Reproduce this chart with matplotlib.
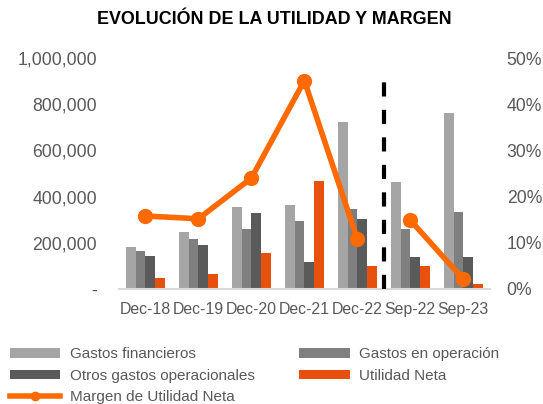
import matplotlib
matplotlib.use("Agg")
import matplotlib.pyplot as plt
import matplotlib.ticker as mticker
from matplotlib.lines import Line2D
import numpy as np

plt.rcParams['font.family'] = ['Liberation Sans', 'DejaVu Sans']

categories = ["Dec-18", "Dec-19", "Dec-20", "Dec-21", "Dec-22", "Sep-22", "Sep-23"]
gastos_financieros = [180000, 247000, 356000, 365000, 721000, 463000, 760000]
gastos_operacion = [166000, 215000, 261000, 296000, 348000, 258000, 333000]
otros_gastos = [143000, 189000, 330000, 115000, 304000, 140000, 140000]
utilidad_neta = [47000, 65000, 157000, 466000, 100000, 100000, 20000]
# margin in fraction; annual part and quarterly part are drawn separately
margen_anual = [0.158, 0.152, 0.240, 0.451, 0.108]
margen_sep = [0.149, 0.021]

gray_txt = "#595959"
bar_colors = ["#A5A5A5", "#7F7F7F", "#5A5A5A", "#E8500E"]
line_color = "#FF6A00"

fig = plt.figure(figsize=(5.43, 4.04), dpi=100)
ax = fig.add_axes([0.219, 0.2847, 0.683, 0.5717])
ax2 = ax.twinx()

x = np.arange(len(categories))
w = 0.182
series = [gastos_financieros, gastos_operacion, otros_gastos, utilidad_neta]
names = ["Gastos financieros", "Gastos en operación", "Otros gastos operacionales", "Utilidad Neta"]
bars = []
for i, (vals, c, n) in enumerate(zip(series, bar_colors, names)):
    b = ax.bar(x + (i - 1.5) * w, vals, w, color=c, label=n, zorder=2)
    bars.append(b)

ax.set_xlim(-0.5, len(categories) - 0.5)
ax.set_ylim(0, 1000000)
ax.set_yticks(np.arange(0, 1000001, 200000))
ax.yaxis.set_major_formatter(mticker.FuncFormatter(lambda v, p: "-" if v == 0 else f"{int(v):,}"))
ax.set_xticks(x)
ax.set_xticklabels(categories)
ax.tick_params(axis='y', length=0, pad=15.8, labelsize=12.7, labelcolor=gray_txt)
ax.tick_params(axis='x', length=0, pad=9.5, labelsize=11.4, labelcolor=gray_txt)
for s in ["top", "left", "right"]:
    ax.spines[s].set_visible(False)
ax.spines["bottom"].set_color("#D9D9D9")
ax.spines["bottom"].set_linewidth(1.5)

ax2.set_ylim(0, 0.5)
ax2.set_yticks(np.arange(0, 0.51, 0.1))
ax2.yaxis.set_major_formatter(mticker.PercentFormatter(1.0, decimals=0))
ax2.tick_params(axis='y', length=0, pad=12.2, labelsize=12.7, labelcolor=gray_txt)
for s in ["top", "left", "right", "bottom"]:
    ax2.spines[s].set_visible(False)

ax2.plot(x[:5], margen_anual, color=line_color, lw=4, marker='o', ms=10, zorder=4)
ax2.plot(x[5:], margen_sep, color=line_color, lw=4, marker='o', ms=10, zorder=4)
ax2.plot([4.5, 4.5], [0, 0.455], color="black", lw=3, ls=(0, (3.4, 3.2)), zorder=5)

fig.text(0.505, 0.951, "EVOLUCIÓN DE LA UTILIDAD Y MARGEN", ha='center', va='center',
         fontsize=12.9, fontweight='bold', color='black')

line_handle = Line2D([], [], color=line_color, lw=4, marker='o', ms=6)
handles = [bars[0], bars[2], line_handle, bars[1], bars[3]]
labels = [names[0], names[2], "Margen de Utilidad Neta", names[1], names[3]]
fig.legend(handles, labels, ncol=2, loc='upper left', bbox_to_anchor=(0.0184, 0.140),
           frameon=False, fontsize=11, labelcolor=gray_txt, handlelength=3.3,
           handleheight=0.6, handletextpad=0.6, columnspacing=2.93, labelspacing=0.48,
           borderpad=0, borderaxespad=0, bbox_transform=fig.transFigure)

fig.savefig("out.png", dpi=100)
